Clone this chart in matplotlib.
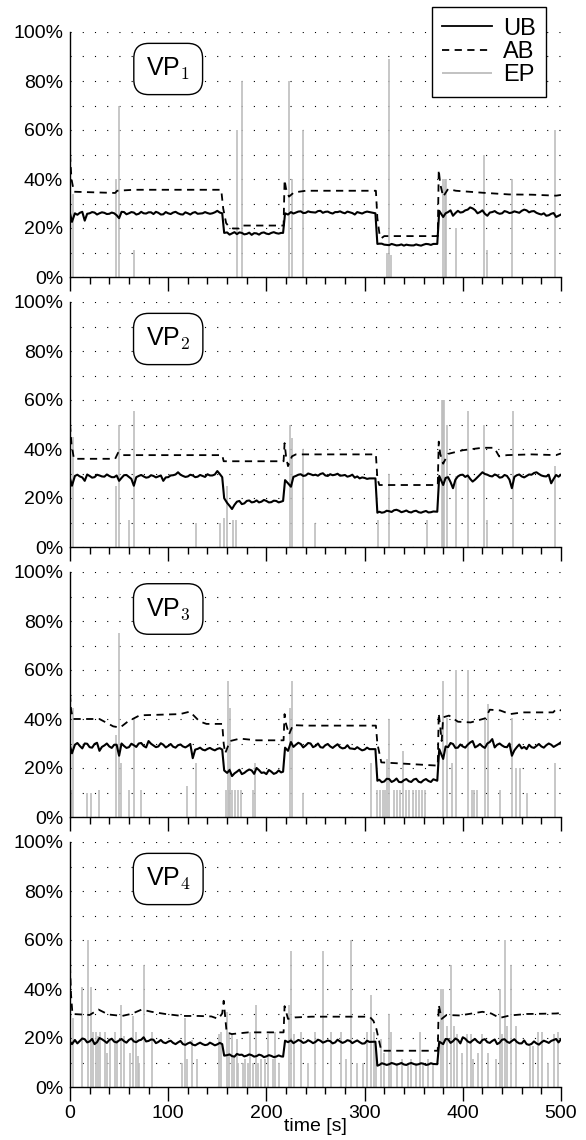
import matplotlib
matplotlib.use("Agg")
import matplotlib.pyplot as plt
from matplotlib.ticker import MultipleLocator, FuncFormatter

plt.rcParams['font.family'] = ['Liberation Sans', 'DejaVu Sans']
plt.rcParams['mathtext.fontset'] = 'cm'

# ---------------- data ----------------
PANEL_LABELS = [r"VP$_1$", r"VP$_2$", r"VP$_3$", r"VP$_4$"]
SERIES_NAMES = ["UB", "AB", "EP"]

UB_T = [0, 2, 5, 10, 15, 20, 25, 30, 35, 40, 45, 50, 55, 60, 65, 70, 75, 80, 85, 90, 95, 100, 105, 110, 115, 120, 125, 130, 135, 140, 145, 150, 155,
        157, 160, 165, 170, 175, 180, 185, 190, 195, 200, 205, 210, 215, 217,
        219, 222, 225, 230, 235, 240, 245, 250, 255, 260, 265, 270, 275, 280, 285, 290, 295, 300, 305, 311,
        313, 315, 320, 325, 330, 335, 340, 345, 350, 355, 360, 365, 370, 374,
        376, 380, 385, 390, 395, 400, 405, 410, 415, 420, 425, 430, 435, 440, 445, 450, 455, 460, 465, 470, 475, 480, 485, 490, 495, 500]

UB1 = [26, 22.5, 26, 26.2, 23, 26, 26.3, 26, 26.2, 25.8, 26, 24, 26.5, 26, 26.3, 25.8, 26, 26.4, 25.7, 26.2, 25.6, 26, 26.3, 26, 25.5, 26, 26.2, 25.8, 26, 26.1, 26, 27, 26,
       18, 18.2, 17.8, 17.5, 18, 17.6, 17.2, 17.8, 18, 17.7, 18, 17.9, 18, 18,
       26, 25.5, 26.5, 26.3, 26.8, 26.2, 26.5, 26.3, 27, 26.6, 26.2, 26.5, 26.8, 26, 26.4, 25.5, 26.2, 26.4, 26.5, 26,
       13.5, 13.6, 13.2, 13, 13.2, 13, 12.8, 13, 12.9, 13, 13.2, 13.4, 13.5, 13.5,
       27, 24.5, 26.5, 25, 27, 26.5, 27.5, 28, 26, 27.2, 25, 26.5, 26.2, 26, 26.6, 26.3, 26.5, 27, 27.2, 26.8, 26.2, 25.5, 25, 25.8, 24.5, 25.5]
UB2 = [28, 25, 29, 28.8, 27, 29, 28.5, 29.2, 28.7, 29, 28.5, 27, 29.3, 28.6, 25, 29, 28.8, 28.5, 29, 28.8, 27, 28.5, 29.3, 30.5, 29, 28.8, 29.2, 28.7, 29, 29.7, 29.2, 31, 28.5,
       19.9, 18, 15.5, 18.5, 17.5, 18.8, 18.2, 19, 18.5, 18.8, 18.3, 18.8, 18.5, 18.8,
       27.3, 26, 24.6, 29, 29.7, 29.2, 29.7, 29.5, 29.8, 29.2, 29.7, 29.5, 29.1, 29.4, 29, 28.3, 28, 28.2, 28, 28,
       14, 14.4, 14.2, 14.6, 15, 14.8, 14.5, 14.3, 14.6, 14.2, 14.4, 14.1, 14.5, 14.4,
       29, 25.3, 28.5, 24, 28.8, 29.5, 29.2, 26.7, 28.5, 30.5, 29.5, 28.8, 29.2, 28.5, 29, 24, 29.3, 28.8, 29, 29.5, 30.5, 29.2, 28.8, 26, 29.4, 29.5]
UB3 = [29, 26, 29.5, 29, 30, 28.5, 29.8, 27, 29.2, 28.8, 29.5, 25, 29, 28.5, 29.3, 30, 29, 31, 29.2, 28.8, 29.5, 29, 28.7, 29.3, 28.8, 29, 24, 27.8, 27.5, 27.8, 27.6, 27.8, 27.5,
       19, 18, 16.7, 18.5, 17.5, 18.8, 19, 20, 18, 17.5, 18.5, 18, 18.2, 18.5,
       28.3, 27, 30.6, 29.5, 29.8, 29.2, 30, 29, 28.5, 29.3, 28.8, 29, 28.5, 28.2, 28, 27.7, 27.8, 27.5, 27.7, 27.7,
       14.8, 15.2, 14.5, 15.5, 14.8, 14.3, 15, 14.6, 15.3, 14.4, 15, 14.7, 15.4, 14.8,
       27.7, 23.7, 28.5, 29.8, 28.3, 28.8, 29.5, 31, 29, 28.8, 30, 31.8, 29.5, 29.2, 28.5, 25, 28.5, 28, 27.7, 28.5, 29, 28.8, 29.3, 29.5, 29.2, 30.5]
UB4 = [18.5, 17.5, 19.2, 18.8, 19.5, 18.6, 17.5, 20, 18.8, 19.2, 18.5, 19, 18.7, 19.2, 18.6, 19, 20.3, 18.8, 19.3, 18.4, 18.2, 18.5, 18, 18.2, 17.5, 17.8, 17.3, 17.6, 17.5, 17.3, 17.6, 17.4, 17.5,
       12.8, 13, 12.6, 13.5, 13.2, 12.8, 13, 12.6, 12.9, 12.5, 12.7, 12.4, 12.5, 12.4,
       18.9, 18.3, 19, 18.5, 18.8, 18.3, 18.6, 18.4, 18.9, 18.5, 18.7, 18.2, 18.6, 18.4, 18.8, 18.5, 18.3, 17.8, 18.4, 18.5,
       8.7, 9, 9.4, 9.3, 9.5, 9.4, 9.2, 9.5, 9.4, 9.3, 9.5, 9.2, 9.4, 9.3,
       18.5, 17.5, 19.5, 18.7, 19.2, 20.3, 18.6, 19, 18.5, 19.2, 18.3, 18.8, 17.5, 19.3, 18.5, 18.8, 18.4, 17.8, 17.5, 17.6, 17.8, 18.2, 18.5, 18.8, 19.6, 19.5]

# additional in-between samples of the noisy UB traces
UB_MID_T = [7.5, 12.5, 17.5, 22.5, 27.5, 32.5, 37.5, 42.5, 47.5, 52.5, 57.5, 62.5, 67.5, 72.5, 77.5, 82.5, 87.5, 92.5, 97.5, 102.5,
            107.5, 112.5, 117.5, 122.5, 127.5, 132.5, 137.5, 142.5, 147.5, 152.5,
            162.5, 167.5, 172.5, 177.5, 182.5, 187.5, 192.5, 197.5, 202.5, 207.5, 212.5,
            227.5, 232.5, 237.5, 242.5, 247.5, 252.5, 257.5, 262.5, 267.5, 272.5, 277.5, 282.5, 287.5, 292.5, 297.5, 302.5,
            317.5, 322.5, 327.5, 332.5, 337.5, 342.5, 347.5, 352.5, 357.5, 362.5, 367.5,
            382.5, 387.5, 392.5, 397.5, 402.5, 407.5, 412.5, 417.5, 422.5, 427.5, 432.5, 437.5, 442.5, 447.5, 452.5, 457.5,
            462.5, 467.5, 472.5, 477.5, 482.5, 487.5, 492.5, 497.5]
UB1_MID = [25.4, 26.6, 25.8, 26.5, 25.5, 26.4, 25.7, 26.3, 25.2, 26.6, 25.6, 26.5, 25.5, 26.6, 25.9, 26.4, 26.6, 25.5, 26.5, 25.7,
           26.6, 25.6, 26.4, 25.5, 26.5, 25.9, 26.5, 25.8, 26.4, 26.3,
           17.3, 18.3, 18.2, 17.4, 18.1, 17.9, 17.3, 18.2, 17.5, 18.3, 17.7,
           25.9, 26.7, 26.1, 26.8, 26.4, 26.9, 26.2, 26.7, 25.9, 26.5, 26.3, 26.7, 26.1, 26.5, 25.9, 26.7,
           13.6, 13.1, 13.5, 12.9, 13.3, 13.2, 12.9, 13.3, 12.8, 13.5, 13.1,
           26, 27.2, 26.1, 26.3, 27.2, 28.4, 27.3, 26.5, 25.8, 26.3, 26.9, 25.8, 26.9, 26.1, 26.8, 26.2,
           27.5, 26.4, 26.9, 25.8, 26, 25.2, 26.1, 25]
UB2_MID = [29.5, 28.4, 29.6, 28.3, 29.5, 28.8, 29.6, 28.5, 29.2, 28.2, 29.4, 27.8, 28.5, 29.4, 28.3, 29.3, 28.4, 29.2, 28.4, 29.2,
           29.6, 29.5, 28.6, 29.5, 28.5, 29.4, 28.6, 29.2, 29.6, 29.8,
           16.8, 17.2, 18.8, 17.8, 19, 18.4, 18.2, 19.2, 18.2, 18.9, 18.2,
           28.6, 29.5, 29, 30, 29.3, 29.1, 30.1, 29, 29.3, 29.9, 29.2, 28.7, 29.5, 28.8, 28.4, 27.8,
           14, 14.8, 14.3, 15.2, 14.2, 14.9, 14.1, 14.8, 14, 14.7, 14.2,
           28.2, 26.5, 27.5, 29.4, 28.6, 27.8, 27.5, 29.5, 29.8, 29, 29.6, 28.3, 29.4, 27.5, 28.6, 29.6,
           28.4, 29.6, 30.2, 29.8, 28.9, 29.5, 27.8, 28.7]
UB3_MID = [30.2, 28, 29.9, 28.3, 30.3, 28.6, 30, 28.2, 29.5, 30, 28.2, 29.9, 28.6, 30.2, 28.4, 29.9, 28.5, 30.1, 28.4, 29.8,
           28.3, 29.6, 28.4, 29.8, 27.5, 28.3, 27.2, 28.2, 27.2, 28.1,
           19.2, 17.8, 19.3, 18, 19.4, 17.6, 19.1, 18.2, 19.2, 17.6, 19,
           28.6, 30.3, 28.4, 30.2, 28.5, 30, 28.3, 29.8, 28.2, 29.7, 28, 29.3, 27.9, 28.5, 27.2, 28.3,
           14.2, 15.6, 14.3, 15.7, 14.2, 15.5, 14.3, 15.6, 14.1, 15.5, 14.3,
           28.8, 30.2, 28.2, 29.6, 28.3, 30.4, 28.4, 29.8, 28.2, 30.6, 28.4, 30, 28.6, 30, 27.2, 29.6,
           28.6, 29.5, 28.2, 29.8, 28.3, 30, 28.6, 29.8]
UB4_MID = [17.8, 19.8, 18.2, 19.6, 18.3, 19.5, 18, 19.7, 18.2, 19.6, 18.1, 19.8, 18.3, 19.3, 18.6, 19.4, 17.9, 19.2, 17.9, 18.9,
           17.5, 18.8, 17.2, 18.2, 17, 18.1, 17.1, 18.1, 17, 18,
           13.3, 12.4, 13.1, 12.5, 13.3, 12.4, 13.2, 12.2, 13, 12.2, 12.9,
           17.9, 19.2, 18, 19.1, 17.9, 19.3, 18.1, 19, 17.8, 19.3, 18, 19.1, 17.9, 19, 17.7, 18.9,
           9.7, 9, 9.8, 9.1, 9.8, 9, 9.8, 9.1, 9.7, 9, 9.7,
           19.6, 18, 19.8, 17.8, 19.7, 18.1, 19.6, 17.9, 19.5, 18, 19.4, 18.1, 19.5, 18, 19.5, 17.8,
           19, 17.2, 18.6, 17.3, 18.9, 18, 19.2, 18.2]

AB1_T = [0, 1.5, 4, 46, 48, 65, 154, 156, 159, 161, 166, 172, 175, 217.5, 218.5, 220, 223, 228, 240, 311.5, 313, 315, 317, 320, 374.5, 375.5, 377, 380, 385, 393, 420, 447, 470, 495, 500]
AB1_V = [50, 40, 34.8, 34.3, 35.2, 35.6, 35.6, 28, 22, 21, 19.8, 19.8, 21, 21, 39.6, 36, 32.8, 34.5, 35.2, 35.2, 24, 18, 15.8, 16.7, 16.7, 43.7, 38, 32.8, 35.9, 35.2, 34.4, 33.7, 33.6, 33.2, 33.5]
AB2_T = [0, 1.5, 4, 46, 49, 53, 155, 156.5, 158, 217.5, 218.5, 220, 222, 226, 230, 311.5, 313, 315, 374.5, 375.5, 377, 380, 385, 400, 420, 432, 437, 445, 470, 495, 500]
AB2_V = [50, 42, 36, 36, 38.5, 37.5, 37.5, 35, 35, 35, 42.4, 37, 33, 37, 37.8, 37.8, 28, 25.3, 25.3, 43, 38, 34, 38, 39.5, 40.5, 40.5, 37, 37.5, 37.8, 37.5, 38.2]
AB3_T = [0, 1, 3, 30, 44, 51, 59, 71, 112, 122, 132, 139, 155, 156.5, 158, 163, 173, 190, 217.5, 218.5, 220, 223, 227, 240, 311.5, 313, 317, 330, 373, 374.5, 375.5, 377, 378.5, 380, 386, 395, 408, 423, 427.5, 438, 448, 461, 492, 495, 500]
AB3_V = [50, 44, 40, 40, 37, 36.5, 39, 41.5, 42, 43, 39, 38, 38, 30, 26, 31, 32, 31.3, 31.3, 42, 38, 33.7, 37.5, 37.3, 37.3, 30, 22.3, 22, 21, 21, 42.3, 37, 31, 40.7, 41.4, 38.9, 38.6, 40.3, 43.8, 43.5, 42, 42.7, 42.7, 44, 43.5]
AB4_T = [0, 1, 2.5, 20, 29, 39, 53, 63, 73, 83, 97, 114, 131, 144, 151, 155, 156.5, 159.5, 164.7, 181.6, 212, 217.5, 218.5, 222, 229, 246, 305, 309, 312, 317, 373, 374.5, 375.5, 378.5, 383.5, 397, 420, 429, 437.5, 448, 465, 495, 500]
AB4_V = [49.5, 38, 29.8, 29.4, 31.6, 29.6, 29, 29.9, 31.6, 30.7, 29.8, 29, 29, 28.8, 27.8, 30, 35.2, 22.3, 21.6, 22.3, 22.3, 22.3, 33, 27.8, 28.4, 28.7, 28.7, 27, 23.7, 14.8, 14.8, 14.8, 33.5, 27.8, 29.4, 29.2, 30.7, 30, 28.2, 29.2, 29.8, 30, 30.2]

EP1_T = [3, 46.5, 50, 65, 170, 175, 223, 226, 237, 323, 325, 326.5, 380, 381.5, 383, 392.7, 421.6, 425, 450, 494]
EP1_V = [34, 40, 70, 11, 60, 80, 80, 40, 60, 10, 89, 9, 40, 40, 40, 20, 50, 11, 40, 60]
EP2_T = [3.4, 46.5, 50, 60.4, 65, 128, 152.7, 156.5, 160, 166, 169, 224, 226.4, 237.6, 249.5, 314, 325, 364, 379, 380, 381, 384, 392.7, 405, 422, 425, 451, 494]
EP2_V = [45, 25, 50, 11, 55.5, 10, 10, 12, 25, 11, 11, 50, 44.6, 40, 10, 11, 30, 11, 60, 60, 60, 50, 29, 55.5, 50, 11, 55.5, 33]
EP3_T = [2, 3.2, 17.6, 21, 29.5, 46.5, 50, 51.6, 60.4, 65, 72.3, 119.5, 128.3, 159, 160.5, 162, 163, 165, 168, 171, 174, 186, 188, 224, 226.4, 237.6, 307, 313, 316, 319,
         321, 323, 325, 330, 333, 336, 339.6, 342, 345, 349, 352, 355, 358, 361, 379.5, 384.3, 388.7, 392.7, 405, 409, 411, 414, 422.6, 426, 438, 450.5, 454, 458, 465, 494]
EP3_V = [11, 44.6, 10, 10, 11, 33.5, 75, 22, 11, 40, 11, 12.7, 22, 11, 55.5, 11, 44.6, 11, 11, 11, 11, 11, 22, 44.6, 55.5, 10, 22, 11, 11, 11,
         11, 23.5, 40, 11, 11, 11, 27, 11, 11, 11, 11, 11, 11, 11, 55.5, 40.5, 22, 60, 60, 11, 11, 11, 40.5, 46, 11, 40.5, 20, 20, 10, 22]
EP4_T = [3.4, 12.6, 18, 21.4, 23.8, 26, 28.8, 30.5, 35.6, 38, 40.7, 45.8, 47.5, 52, 55, 61, 64.5, 67, 69, 70, 75, 83, 114, 117, 119.5, 124.5, 129, 151.7, 154, 159.5,
         162, 164.5, 167, 169.6, 171, 176.4, 178, 181, 183, 186.5, 189, 191.5, 195, 199, 201.6, 206.7, 209, 212.8, 223, 225, 228.4, 235, 242,
         249.5, 258, 265.4, 275.6, 281, 285.8, 292.6, 298, 302.8, 307, 309.5, 312, 317, 319.5, 324.6, 327, 333, 338, 344, 347.5,
         352, 356, 359, 365, 370, 378, 379.6, 384, 388, 390.6, 394, 399.3, 404, 408.6, 410.3, 415, 420, 425.4, 434, 437.4,
         440, 443.4, 445, 449, 454, 468.7, 471.8, 477, 481, 487, 493, 496.5]
EP4_V = [28, 40.7, 60, 40.7, 22.3, 22.3, 21, 22.3, 22.3, 14, 19, 22.3, 19, 33.5, 21, 14, 29, 22.3, 12.8, 10, 50, 22.3, 10, 28, 11.4, 19, 11.4, 21.6, 22.3, 30.5,
         22.3, 21.6, 12.8, 19.6, 10, 10, 11.4, 10, 22.3, 10, 33.5, 10, 11.4, 11.4, 21.6, 11.4, 22.3, 10, 33.5, 55.6, 21.6, 22.3, 10,
         22.3, 55.6, 22.3, 22.3, 11.4, 60, 10, 10, 22.3, 37.5, 22.3, 16.9, 19.6, 14, 30, 22.3, 10, 11.4, 10, 11.4,
         10, 22.3, 10, 11.4, 10, 40, 40, 25, 50, 25, 21.6, 14, 21.6, 21.6, 11.4, 14, 21.6, 14, 11.4, 40,
         21.6, 60, 25, 50, 25, 16.9, 16.9, 22.3, 22.3, 10, 21.6, 22.3]

UB_ALL = [(UB1, UB1_MID), (UB2, UB2_MID), (UB3, UB3_MID), (UB4, UB4_MID)]
AB_ALL = [(AB1_T, AB1_V), (AB2_T, AB2_V), (AB3_T, AB3_V), (AB4_T, AB4_V)]
EP_ALL = [(EP1_T, EP1_V), (EP2_T, EP2_V), (EP3_T, EP3_V), (EP4_T, EP4_V)]

X_TICKS = [0, 100, 200, 300, 400, 500]
Y_TICKS = [0, 20, 40, 60, 80, 100]

# ---------------- figure ----------------
W, H = 586, 1140
fig = plt.figure(figsize=(W / 100, H / 100), dpi=100)

left_px, right_px = 70, 561
EP_COLOR = '#bdbdbd'

for i in range(4):
    top_px = 32 + 270 * i
    bot_px = 277 + 270 * i
    ax = fig.add_axes([left_px / W, 1 - bot_px / H, (right_px - left_px) / W, (bot_px - top_px) / H])

    ept, epv = EP_ALL[i]
    h_ep = ax.vlines(ept, 0, epv, colors=EP_COLOR, lw=1.2, zorder=2)

    main_v, mid_v = UB_ALL[i]
    pts = sorted(list(zip(UB_T, main_v)) + list(zip(UB_MID_T, mid_v)))
    h_ub, = ax.plot([p[0] for p in pts], [p[1] for p in pts], color='black', lw=1.5, zorder=3)

    abt, abv = AB_ALL[i]
    h_ab, = ax.plot(abt, abv, color='black', lw=1.3, linestyle=(0, (4, 3)), zorder=3)

    ax.set_xlim(0, 500)
    ax.set_ylim(0, 100)
    ax.xaxis.set_major_locator(MultipleLocator(100))
    ax.xaxis.set_minor_locator(MultipleLocator(20))
    ax.set_yticks(Y_TICKS)
    ax.yaxis.set_minor_locator(MultipleLocator(10))
    ax.yaxis.set_major_formatter(FuncFormatter(lambda v, p: f"{int(v)}%"))
    ax.grid(True, which='both', axis='y', color='black', lw=0.8, linestyle=(0, (1, 10)), zorder=0)
    ax.set_axisbelow(True)
    for s in ['top', 'right']:
        ax.spines[s].set_visible(False)
    ax.spines['left'].set_linewidth(1.0)
    ax.spines['bottom'].set_linewidth(1.0)
    ax.tick_params(axis='x', which='major', direction='out', length=10, width=1.0, labelsize=14, pad=3)
    ax.tick_params(axis='x', which='minor', direction='out', length=5, width=1.0)
    ax.tick_params(axis='y', which='both', length=0, labelsize=14, pad=5)
    if i < 3:
        ax.tick_params(axis='x', which='both', labelbottom=False)
    else:
        ax.set_xticks(X_TICKS)
        ax.set_xlabel("time [s]", fontsize=14, labelpad=-3)

    ax.text(0.2, 0.849, PANEL_LABELS[i], transform=ax.transAxes, ha='center', va='center',
            fontsize=18, zorder=5,
            bbox=dict(boxstyle='round,pad=0.5,rounding_size=0.6', fc='white', ec='black', lw=1.0))

    if i == 0:
        leg = ax.legend([h_ub, h_ab, h_ep], SERIES_NAMES, loc='upper right',
                        bbox_to_anchor=(0.9695, 1.102), borderaxespad=0, fontsize=17,
                        labelspacing=0.05, handlelength=2.1, handletextpad=0.45,
                        borderpad=0.45, fancybox=False, framealpha=1, edgecolor='black')
        leg.get_frame().set_linewidth(1.0)
        leg.set_zorder(6)
        for lh in leg.get_lines():
            lh.set_linewidth(1.3)

fig.savefig("out.png", dpi=100)
